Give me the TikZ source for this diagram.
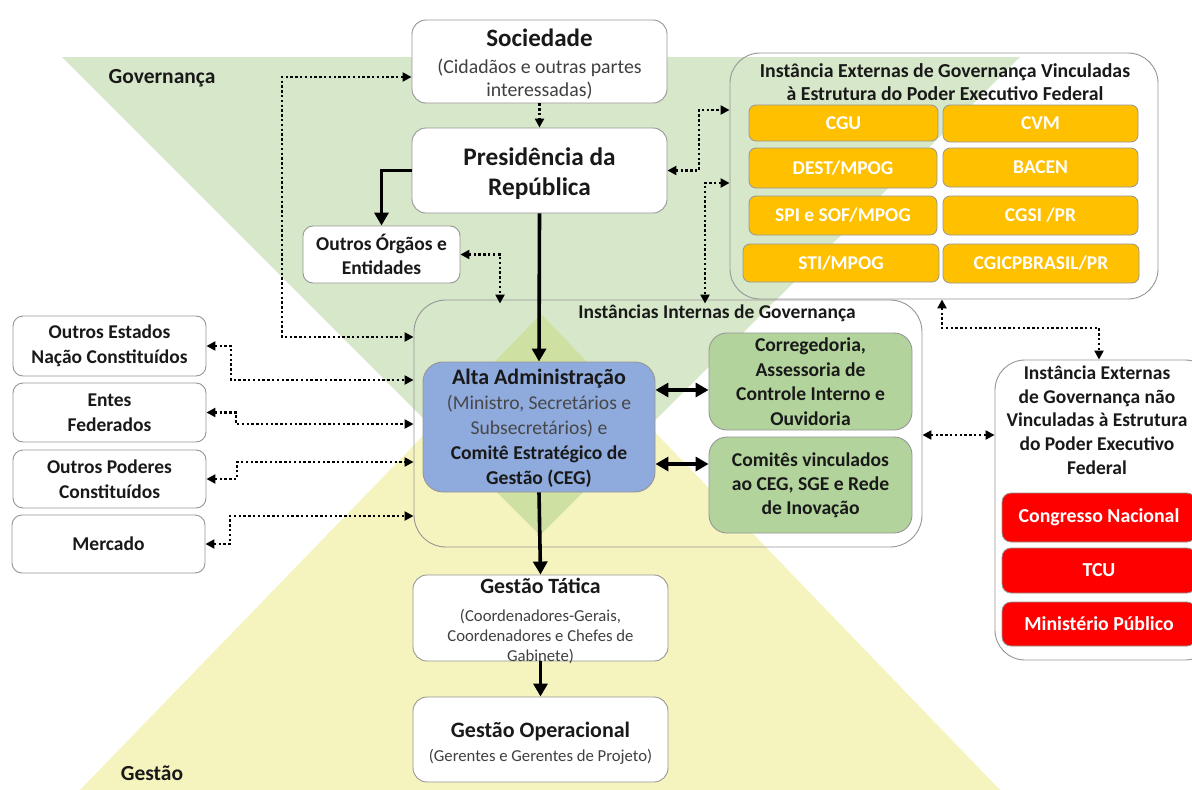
\documentclass[tikz,border=0pt]{standalone}
\usepackage{fontspec}
\setmainfont{Carlito}
\usetikzlibrary{arrows.meta}
\definecolor{bggreen}{RGB}{215,231,202}
\definecolor{bgyellow}{RGB}{246,244,190}
\definecolor{bgmix}{RGB}{206,225,163}
\definecolor{orangebox}{RGB}{255,192,0}
\definecolor{bluebox}{RGB}{143,170,220}
\definecolor{greenbox}{RGB}{178,212,156}
\definecolor{redbox}{RGB}{255,0,0}
\definecolor{txt}{RGB}{25,25,25}
\definecolor{subtxt}{RGB}{64,64,64}
\definecolor{edge}{RGB}{150,150,150}
\newcommand\myfs[2]{\fontsize{#1}{#2}\selectfont}
\begin{document}
\begin{tikzpicture}[x=1pt,y=-1pt,
  span/.style n args={4}{at={({(#1+#3)/2},{(#2+#4)/2})}, anchor=center, minimum width={(#3-#1)*1pt}, minimum height={(#4-#2)*1pt}},
  box/.style={draw=edge, line width=0.9pt, fill=white, rounded corners=14pt, inner sep=0pt, align=center, text=txt},
  frame/.style={draw=edge, line width=0.9pt, rounded corners=30pt, inner sep=0pt},
  obox/.style={draw=edge, line width=0.8pt, fill=orangebox, rounded corners=7pt, inner sep=0pt, text=white, font=\myfs{19.5}{22}\bfseries},
  rbox/.style={draw=edge, line width=0.8pt, fill=redbox, rounded corners=9pt, inner sep=0pt, text=white, font=\myfs{19.8}{22}\bfseries},
  lbl/.style={inner sep=0pt, align=center, text=txt},
  tipd/.tip={Triangle[length=9pt,width=9pt]},
  tips/.tip={Triangle[length=13pt,width=14pt]},
  dotto/.style={line width=2.6pt, dash pattern=on 2.4pt off 2.4pt, -tipd},
  dotboth/.style={line width=2.6pt, dash pattern=on 2.4pt off 2.4pt, tipd-tipd},
  solidto/.style={line width=3.6pt, -tips},
  solidboth/.style={line width=3.6pt, tips-tips},
]
\clip (0,0) rectangle (1192,790);
\fill[white] (0,0) rectangle (1192,790);
% background triangles
\fill[bgyellow] (541,314) -- (80,790) -- (1000,790) -- cycle;
\fill[bggreen] (62,57) -- (1020,57) -- (540,535) -- cycle;
\begin{scope}
  \clip (541,314) -- (80,790) -- (1000,790) -- cycle;
  \fill[bgmix] (62,57) -- (1020,57) -- (540,535) -- cycle;
\end{scope}
\node[lbl, font=\myfs{21.5}{24}\bfseries] (govl) at (162,78) {Governança};
\node[lbl, font=\myfs{21.5}{24}\bfseries] (gesl) at (152,773) {Gestão};

% frames
\node[frame, span={730}{53}{1158}{299}] (ev) {};
\node[frame, rounded corners=32pt, span={414}{300}{922}{547}] (int) {};
\node[frame, span={995}{360}{1215}{660}] (env) {};
\node[lbl, font=\myfs{19.8}{23}\bfseries] (evt) at (945,82) {Instância Externas de Governança Vinculadas\\à Estrutura do Poder Executivo Federal};
\node[lbl, font=\myfs{19.5}{22}\bfseries] (intt) at (717,313) {Instâncias Internas de Governança};
\node[lbl, font=\myfs{19.5}{23.7}\bfseries] (envt) at (1097,420) {Instância Externas\\de Governança não\\Vinculadas à Estrutura\\do Poder Executivo\\Federal};

% top boxes
\node[box, span={412}{20}{667}{103}] (soc) {};
\node[lbl, font=\myfs{19.8}{23.5}, text=subtxt] (soct) at (539.5,64.5) {{\bfseries\myfs{25}{27}\color{txt}Sociedade}\\[3pt](Cidadãos e outras partes\\interessadas)};
\node[box, span={412}{128}{667}{213}] (pres) {};
\node[lbl, font=\myfs{25.3}{30}\bfseries] (prest) at (539.5,173.5) {Presidência da\\República};
\node[box, rounded corners=10pt, span={303}{226}{460}{283}, font=\myfs{19.5}{24}\bfseries] (oo) {Outros Órgãos e\\Entidades};

% orange boxes
\node[obox, span={749}{105}{938}{141}] (o1) {CGU};
\node[obox, span={943}{105}{1138}{142}] (o2) {CVM};
\node[obox, span={749}{148}{937}{188}] (o3) {DEST/MPOG};
\node[obox, span={943}{148}{1138}{187}] (o4) {BACEN};
\node[obox, span={749}{196}{937}{235}] (o5) {SPI e SOF/MPOG};
\node[obox, span={943}{196}{1138}{235}] (o6) {CGSI /PR};
\node[obox, span={743}{244}{939}{282}] (o7) {STI/MPOG};
\node[obox, span={943}{244}{1139}{283}] (o8) {CGICPBRASIL/PR};

% left boxes
\node[box, rounded corners=10pt, span={13}{316}{206}{376}, font=\myfs{19.5}{25}\bfseries] (os) {Outros Estados\\Nação Constituídos};
\node[box, rounded corners=10pt, span={13}{383}{206}{442}, font=\myfs{19.5}{25}\bfseries] (en) {Entes\\Federados};
\node[box, rounded corners=10pt, span={13}{450}{206}{508}, font=\myfs{19.5}{25}\bfseries] (op) {Outros Poderes\\Constituídos};
\node[box, rounded corners=10pt, span={12}{515}{205}{573}, font=\myfs{19.5}{25}\bfseries] (me) {Mercado};

% internal boxes
\node[box, fill=bluebox, rounded corners=20pt, span={423}{362}{655}{492}] (alta) {};
\node[lbl, font=\myfs{19.6}{25}] (altat) at (539,428.5) {{\bfseries\myfs{22}{25}Alta Administração}\\{\color{black!72}(Ministro, Secretários e}\\{\color{black!72}Subsecretários) e}\\{\bfseries Comitê Estratégico de}\\{\bfseries Gestão (CEG)}};
\node[box, fill=greenbox, rounded corners=18pt, span={709}{333}{912}{430}, font=\myfs{19.6}{24.5}\bfseries] (corr) {Corregedoria,\\Assessoria de\\Controle Interno e\\Ouvidoria};
\node[box, fill=greenbox, rounded corners=18pt, span={709}{437}{912}{533}, font=\myfs{19.6}{24}\bfseries] (com) {Comitês vinculados\\ao CEG, SGE e Rede\\de Inovação};

% right red boxes
\node[rbox, span={1002}{493}{1196}{542}] (r1) {Congresso Nacional};
\node[rbox, span={1002}{548}{1196}{593}] (r2) {TCU};
\node[rbox, span={1002}{602}{1196}{646}] (r3) {Ministério Público};

% gestão boxes
\node[box, span={413}{575}{668}{661}] (gt) {};
\node[lbl, font=\myfs{16.7}{20}, text=subtxt] (gtx) at (540.5,621) {{\bfseries\myfs{21.8}{24}\color{txt}Gestão Tática}\\[8pt](Coordenadores-Gerais,\\Coordenadores e Chefes de\\Gabinete)};
\node[box, span={413}{697}{668}{782}] (go) {};
\node[lbl, font=\myfs{16.7}{23.5}, text=subtxt] (got) at (540.5,743) {{\bfseries\myfs{22}{25}\color{txt}Gestão Operacional}\\(Gerentes e Gerentes de Projeto)};

% connectors
\draw[dotto] (soc.south) -- (pres.north);
\draw[solidto] (pres.south) -- (alta.north);
\draw[solidto] (pres.west) -| (oo.north);
\draw[dotboth] (oo.east) -| ([yshift=-4pt]int.north -| 500,0);
\draw[dotboth] (soc.west |- 0,77) -- (282,77) -- (282,337) -- (int.west |- 0,337);
\draw[dotboth] (os.east) -- (231,346) -- (231,380) -- (int.west |- 0,380);
\draw[dotboth] (en.east) -- (236,412.5) -- (236,424) -- (int.west |- 0,424);
\draw[dotboth] (op.east) -- (237,479) -- (237,462) -- (int.west |- 0,462);
\draw[dotboth] (me.east) -- (230,544) -- (230,516) -- (int.west |- 0,516);
\draw[dotboth] (pres.east) -- (699,170.5) -- (699,110) -- (ev.west |- 0,110);
\draw[dotboth] (ev.west |- 0,183) -- (705,183) -- ([yshift=-4pt]int.north -| 705,0);
\draw[dotboth] (ev.south -| 942,0) -- (942,328) -| (env.north -| 1099,0);
\draw[dotboth] (int.east |- 0,435) -- (env.west |- 0,435);
\draw[solidboth] (alta.east |- 0,390) -- (corr.west |- 0,390);
\draw[solidboth] (alta.east |- 0,464) -- (com.west |- 0,464);
\draw[solidto] (alta.south) -- (gt.north);
\draw[solidto] (gt.south) -- (go.north);
\end{tikzpicture}
\end{document}
